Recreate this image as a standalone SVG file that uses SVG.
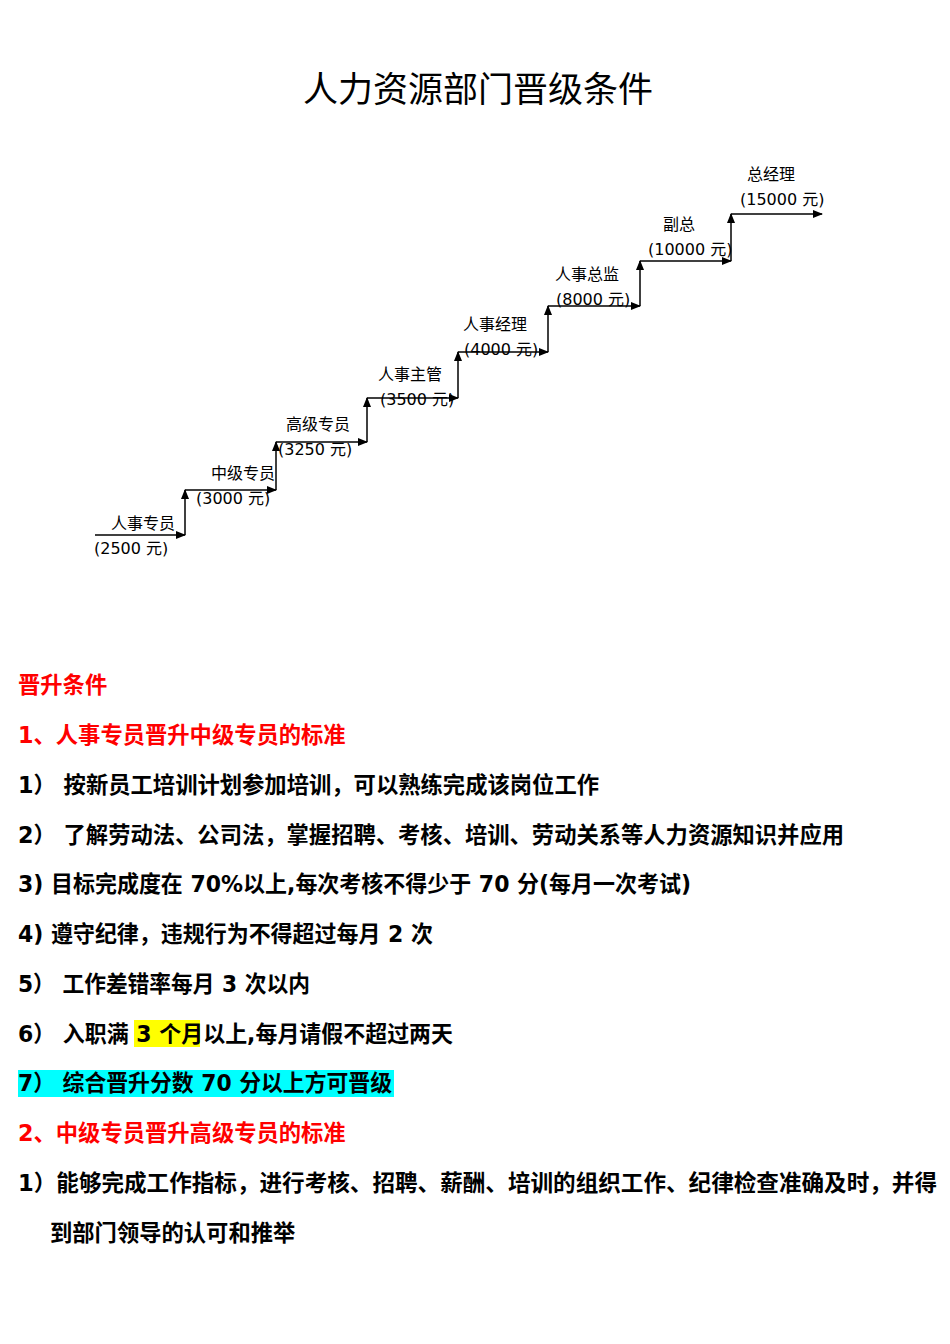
<svg xmlns="http://www.w3.org/2000/svg" width="950" height="1344" viewBox="0 0 950 1344">
<style>
.l{font-family:"DejaVu Sans","Noto Sans CJK SC",sans-serif;font-size:16px;fill:#000}
.b{font-family:"DejaVu Sans","Noto Sans CJK SC",sans-serif;font-size:22.3px;font-weight:bold;fill:#000}
.r{fill:#f00}
.c{stroke:#000;stroke-width:1.5;fill:none;marker-end:url(#a)}
</style>
<defs><marker id="a" markerWidth="10" markerHeight="8" refX="9" refY="4" orient="auto" markerUnits="userSpaceOnUse"><path d="M0,0L10,4L0,8z" fill="#000"/></marker></defs>
<rect width="950" height="1344" fill="#fff"/>
<text x="478" y="102" text-anchor="middle" style="font-family:'DejaVu Sans','Noto Sans CJK SC',sans-serif;font-size:35px">人力资源部门晋级条件</text>
<g id="connectors">
<path class="c" d="M95,535H185"/><path class="c" d="M185,535V490"/>
<path class="c" d="M185,490H276"/><path class="c" d="M276,490V442"/>
<path class="c" d="M276,442H367"/><path class="c" d="M367,442V398"/>
<path class="c" d="M367,398H458"/><path class="c" d="M458,398V352"/>
<path class="c" d="M458,352H548"/><path class="c" d="M548,352V306"/>
<path class="c" d="M548,306H640"/><path class="c" d="M640,306V261"/>
<path class="c" d="M640,261H731"/><path class="c" d="M731,261V214"/>
<path class="c" d="M731,214H822"/>
</g>
<g id="n1"><text class="l" x="111" y="529">人事专员</text><text class="l" x="94" y="554">(2500 元)</text></g>
<g id="n2"><text class="l" x="211" y="479">中级专员</text><text class="l" x="196" y="504">(3000 元)</text></g>
<g id="n3"><text class="l" x="286" y="430">高级专员</text><text class="l" x="278" y="455">(3250 元)</text></g>
<g id="n4"><text class="l" x="378" y="380">人事主管</text><text class="l" x="380" y="405">(3500 元)</text></g>
<g id="n5"><text class="l" x="463" y="330">人事经理</text><text class="l" x="464" y="355">(4000 元)</text></g>
<g id="n6"><text class="l" x="555" y="280">人事总监</text><text class="l" x="556" y="305">(8000 元)</text></g>
<g id="n7"><text class="l" x="663" y="230">副总</text><text class="l" x="648" y="255">(10000 元)</text></g>
<g id="n8"><text class="l" x="747" y="180">总经理</text><text class="l" x="740" y="205">(15000 元)</text></g>
<rect x="134" y="1020" width="66" height="27" fill="#ff0"/>
<rect x="18" y="1070" width="376" height="27" fill="#0ff"/>
<text class="b r" x="18" y="693">晋升条件</text>
<text class="b r" x="18" y="743">1、人事专员晋升中级专员的标准</text>
<text class="b" x="18" y="793" textLength="581" lengthAdjust="spacingAndGlyphs">1） 按新员工培训计划参加培训，可以熟练完成该岗位工作</text>
<text class="b" x="18" y="843" textLength="826" lengthAdjust="spacingAndGlyphs">2） 了解劳动法、公司法，掌握招聘、考核、培训、劳动关系等人力资源知识并应用</text>
<text class="b" x="18" y="892" textLength="673" lengthAdjust="spacingAndGlyphs">3) 目标完成度在 70%以上,每次考核不得少于 70 分(每月一次考试)</text>
<text class="b" x="18" y="942" textLength="415" lengthAdjust="spacingAndGlyphs">4) 遵守纪律，违规行为不得超过每月 2 次</text>
<text class="b" x="18" y="992" textLength="292" lengthAdjust="spacingAndGlyphs">5） 工作差错率每月 3 次以内</text>
<text class="b" x="18" y="1042" textLength="435" lengthAdjust="spacingAndGlyphs">6） 入职满 3 个月以上,每月请假不超过两天</text>
<text class="b" x="18" y="1091" textLength="374" lengthAdjust="spacingAndGlyphs">7） 综合晋升分数 70 分以上方可晋级</text>
<text class="b r" x="18" y="1141">2、中级专员晋升高级专员的标准</text>
<text class="b" x="18" y="1191" textLength="919" lengthAdjust="spacingAndGlyphs">1）能够完成工作指标，进行考核、招聘、薪酬、培训的组织工作、纪律检查准确及时，并得</text>
<text class="b" x="50" y="1241">到部门领导的认可和推举</text>
</svg>
